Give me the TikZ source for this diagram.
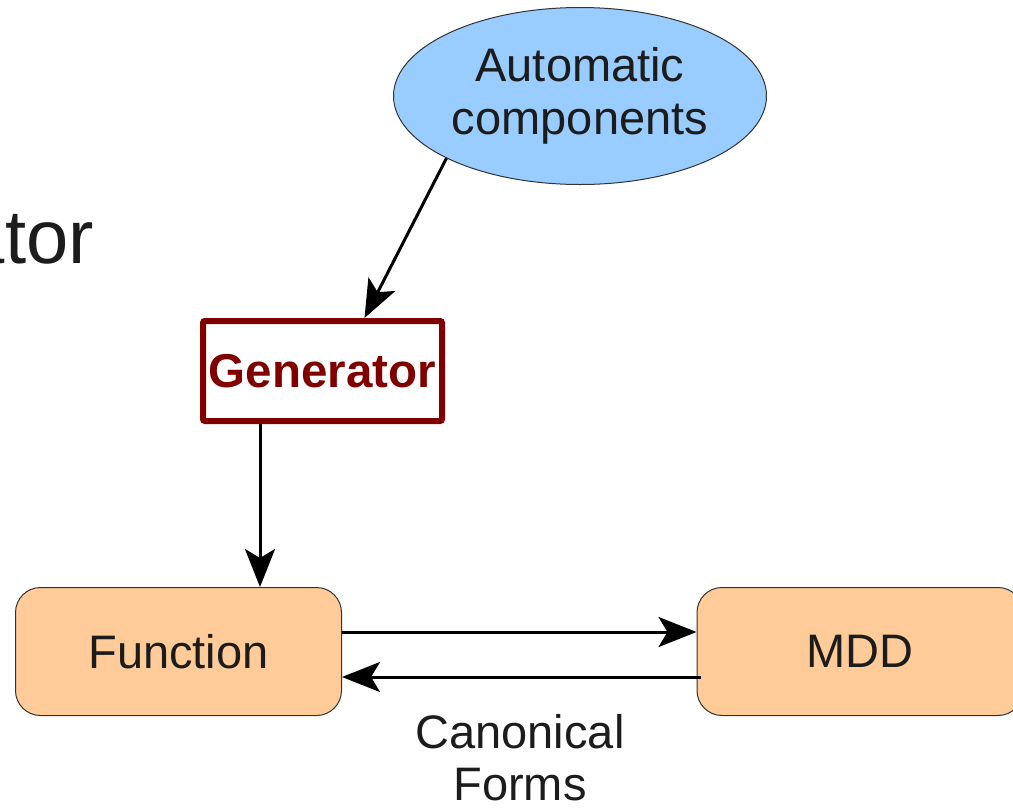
\documentclass[tikz,border=0pt]{standalone}
\usepackage{fontspec}
\setmainfont{Liberation Sans}
\usetikzlibrary{shapes.geometric,arrows.meta}
\definecolor{txt}{HTML}{1C1C1C}
\definecolor{autofill}{HTML}{99CCFF}
\definecolor{boxfill}{HTML}{FFCC99}
\definecolor{genred}{HTML}{800000}
\definecolor{edge}{HTML}{333333}
\tikzset{
  arr/.style={line width=3pt, draw=black, -{Stealth[length=38pt,width=30pt,inset=9pt]}},
  bigtext/.style={font=\fontsize{47}{53}\selectfont, text=txt},
  procbox/.style={draw=edge, line width=1pt, fill=boxfill, rounded corners=25pt,
    minimum width=326pt, minimum height=128pt, inner sep=0pt, bigtext},
}
\begin{document}
\begin{tikzpicture}[x=1pt,y=-1pt]
\useasboundingbox (0,0) rectangle (1013,807);
\clip (0,0) rectangle (1013,807);

% partial title text at the left edge
\node[anchor=base east, inner sep=0pt, font=\fontsize{76}{80}\selectfont, text=txt] (title) at (94,263) {ator};

% ellipse
\node[ellipse, draw=edge, line width=1pt, fill=autofill, minimum width=373pt, minimum height=177pt,
      inner sep=0pt, bigtext, align=center] (auto) at (580,96) {Automatic\\components};

% generator box
\node[draw=genred, line width=6pt, rounded corners=2pt, fill=white, minimum width=239pt, minimum height=100pt,
      inner sep=0pt, text=genred, font=\fontsize{47.5}{50}\selectfont\bfseries] (gen) at (322.5,371) {Generator};

% function and MDD boxes
\node[procbox] (func) at (178.5,651.5) {Function};
\node[procbox] (mdd) at (860,651.5) {MDD};

% connectors
\draw[arr] (auto.205) -- ([xshift=42pt]gen.north);
\draw[arr] ([xshift=-62.5pt]gen.south) coordinate (g1) -- (g1 |- func.north);
\draw[arr] ([yshift=19.5pt]func.east) -- ([yshift=19.5pt]func.east -| mdd.west);
\draw[arr] ([yshift=-25.5pt,xshift=4pt]mdd.west) -- ([yshift=-25.5pt]mdd.west -| func.east);

% label below arrows
\node[bigtext, anchor=base, inner sep=0pt] (canon) at (520,748) {Canonical};
\node[bigtext, anchor=base, inner sep=0pt] (forms) at (520,800) {Forms};
\end{tikzpicture}
\end{document}
